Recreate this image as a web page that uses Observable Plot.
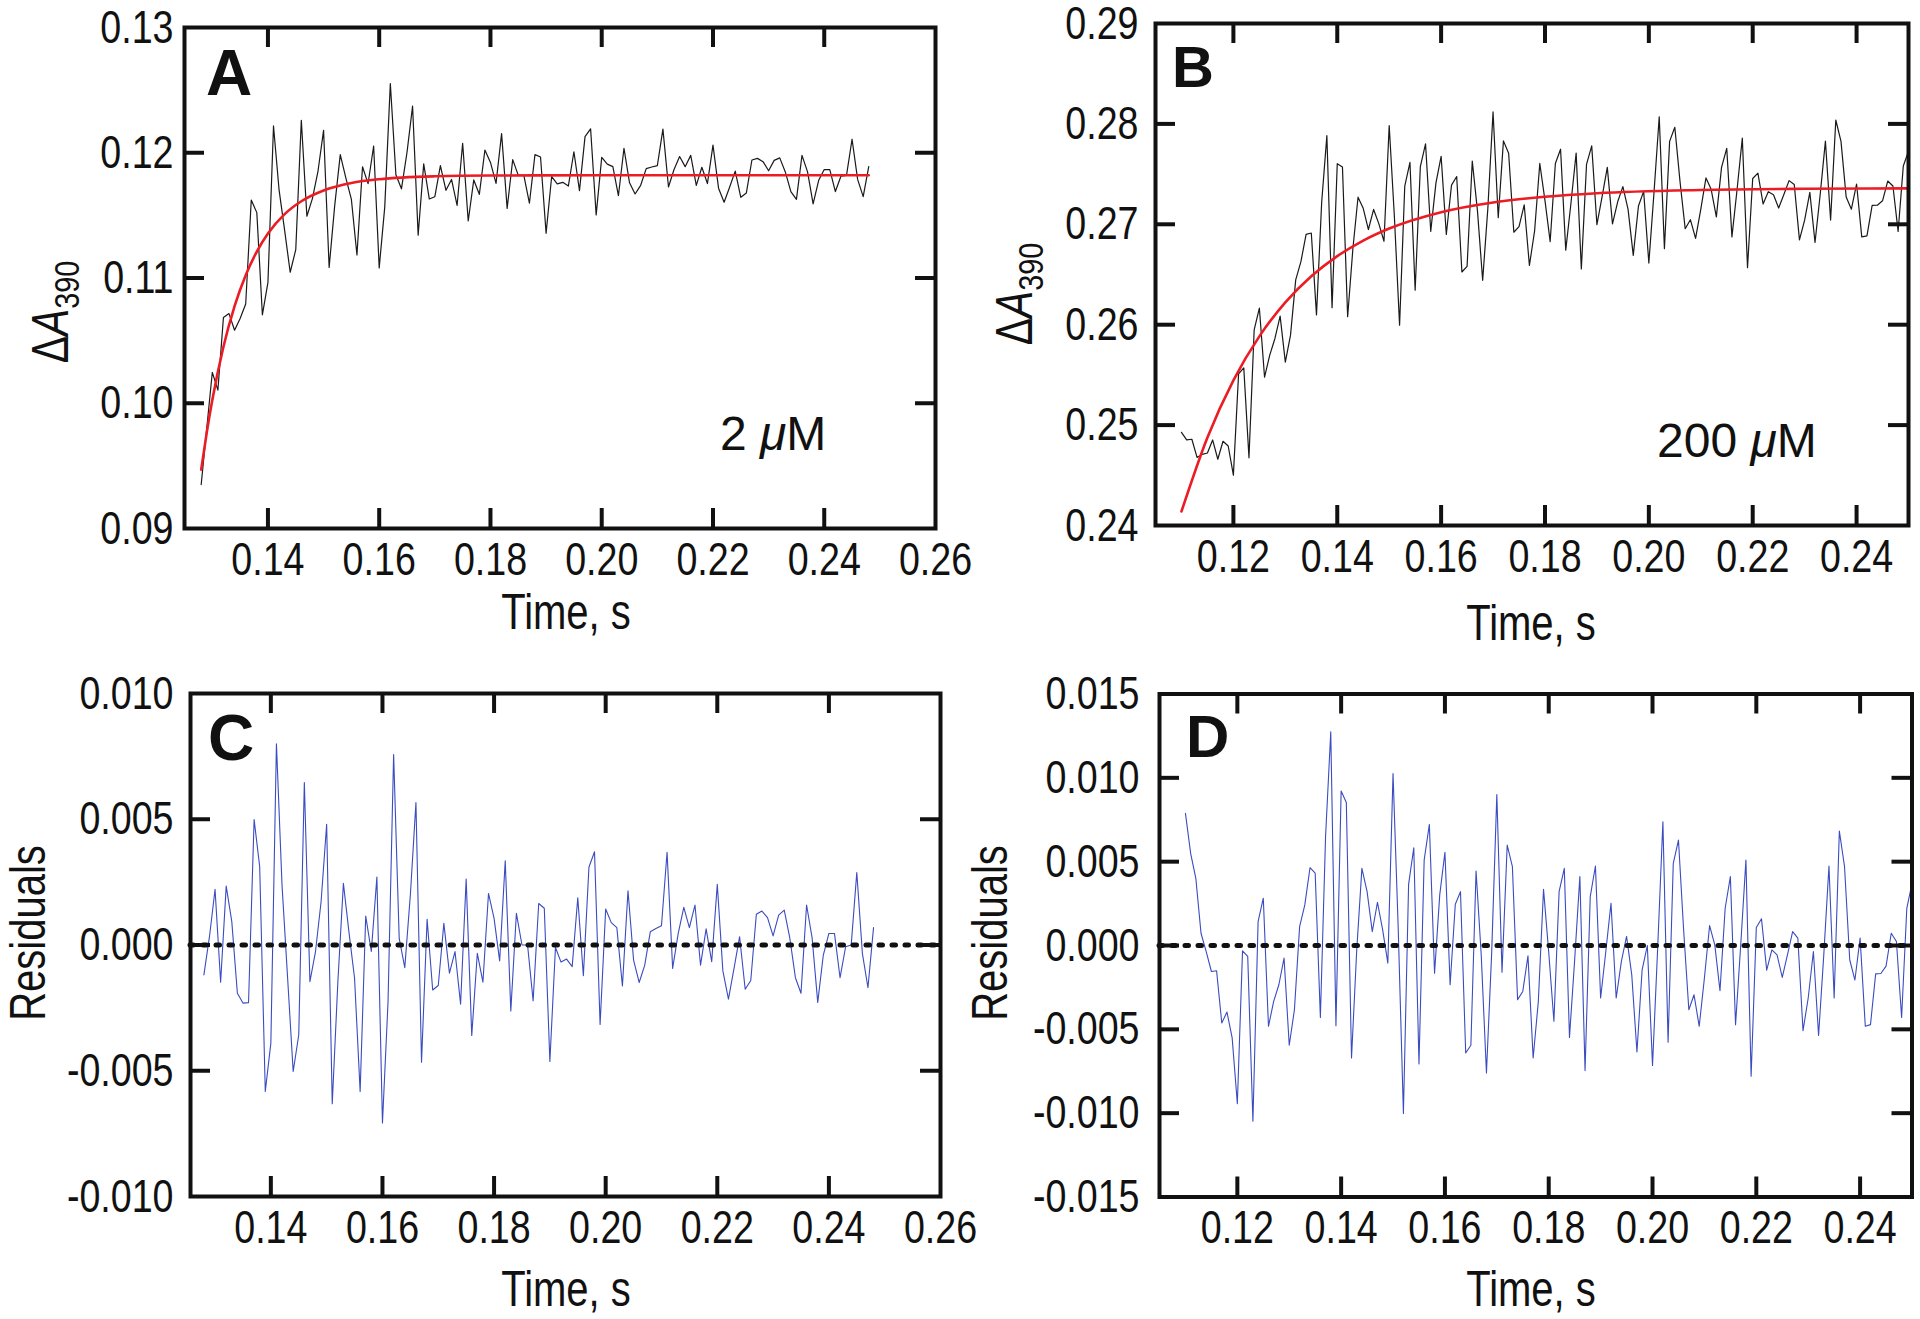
<!DOCTYPE html>
<html><head><meta charset="utf-8">
<script src="https://cdn.jsdelivr.net/npm/d3@7"></script>
<script src="https://cdn.jsdelivr.net/npm/@observablehq/plot@0.6"></script>
<style>
html,body{margin:0;padding:0;background:#fff;}
#fig{position:relative;width:1920px;height:1319px;background:#fff;overflow:hidden;}
.panel{position:absolute;}
</style></head><body><div id="fig"></div>
<script>
// ---------- DATA ----------
const timeA = [0.128,0.129,0.130,0.131,0.132,0.133,0.134,0.135,0.136,0.137,0.138,0.139,0.140,0.141,0.142,0.143,0.144,0.145,0.146,0.147,0.148,0.149,0.150,0.151,0.152,0.153,0.154,0.155,0.156,0.157,0.158,0.159,0.160,0.161,0.162,0.163,0.164,0.165,0.166,0.167,0.168,0.169,0.170,0.171,0.172,0.173,0.174,0.175,0.176,0.177,0.178,0.179,0.180,0.181,0.182,0.183,0.184,0.185,0.186,0.187,0.188,0.189,0.190,0.191,0.192,0.193,0.194,0.195,0.196,0.197,0.198,0.199,0.200,0.201,0.202,0.203,0.204,0.205,0.206,0.207,0.208,0.209,0.210,0.211,0.212,0.213,0.214,0.215,0.216,0.217,0.218,0.219,0.220,0.221,0.222,0.223,0.224,0.225,0.226,0.227,0.228,0.229,0.230,0.231,0.232,0.233,0.234,0.235,0.236,0.237,0.238,0.239,0.240,0.241,0.242,0.243,0.244,0.245,0.246,0.247,0.248];
const absorbanceA = [0.09351,0.098,0.10247,0.10105,0.10685,0.10716,0.10583,0.10676,0.10793,0.11622,
0.11522,0.10706,0.10965,0.12214,0.11703,0.1138,0.11046,0.11226,0.12259,0.11493,
0.11636,0.11854,0.12179,0.11084,0.11578,0.11985,0.118,0.11627,0.11184,0.11888,
0.11753,0.12054,0.11081,0.11568,0.12553,0.11825,0.11712,0.12004,0.12372,0.11342,
0.11911,0.11631,0.11649,0.11897,0.117,0.11787,0.11579,0.12076,0.11455,0.11783,
0.11668,0.12022,0.11923,0.11755,0.12153,0.11556,0.11945,0.11819,0.11819,0.11597,
0.11985,0.11966,0.11357,0.1181,0.11752,0.11764,0.11734,0.12008,0.11698,0.12129,
0.12191,0.11504,0.11963,0.11909,0.11889,0.11657,0.12036,0.1176,0.11671,0.1174,
0.11873,0.11886,0.11897,0.12189,0.11727,0.11866,0.1197,0.11889,0.11979,0.1174,
0.11884,0.11754,0.12061,0.11717,0.11605,0.11727,0.11853,0.11644,0.11679,0.11942,
0.11955,0.11929,0.11856,0.11939,0.11959,0.11847,0.1169,0.11628,0.11979,0.11847,
0.11592,0.1178,0.11866,0.11866,0.1169,0.11813,0.1182,0.12108,0.11787,0.1165,
0.11889];
const fitTimeA = [0.128,0.129,0.130,0.132,0.134,0.136,0.138,0.140,0.143,0.146,0.150,0.155,0.160,0.170,0.180,0.200,0.248];
const fitA = [0.0947,0.09767,0.10026,0.10451,0.10775,0.11022,0.11211,0.11355,0.1151,0.11613,0.11699,0.11759,0.11789,0.11812,0.11818,0.1182,0.1182];
const residualsC = [-0.00119,0.00033,0.00221,-0.00148,0.00234,0.00093,-0.00192,-0.00231,-0.00229,0.00499,
0.00311,-0.00582,-0.0039,0.008,0.00238,-0.0013,-0.00503,-0.00357,0.00646,-0.00146,
-0.00026,0.00172,0.0048,-0.00631,-0.0015,0.00245,0.0005,-0.00132,-0.00582,0.00115,
-0.00026,0.0027,-0.00708,-0.00225,0.00757,0.00026,-0.0009,0.002,0.00566,-0.00466,
0.00102,-0.00179,-0.00161,0.00086,-0.00112,-0.00026,-0.00235,0.00262,-0.0036,-0.00033,
-0.00148,0.00205,0.00106,-0.00063,0.00335,-0.00262,0.00126,0,0,-0.00222,
0.00165,0.00146,-0.00463,-0.0001,-0.00068,-0.00056,-0.00086,0.00188,-0.00122,0.00309,
0.00371,-0.00316,0.00143,0.00089,0.00069,-0.00163,0.00216,-0.0006,-0.00149,-0.0008,
0.00053,0.00066,0.00077,0.00369,-0.00093,0.00046,0.0015,0.00069,0.00159,-0.0008,
0.00064,-0.00066,0.00241,-0.00103,-0.00215,-0.00093,0.00033,-0.00176,-0.00141,0.00122,
0.00135,0.00109,0.00036,0.00119,0.00139,0.00027,-0.0013,-0.00192,0.00159,0.00027,
-0.00228,-0.0004,0.00046,0.00046,-0.0013,-0.00007,0,0.00288,-0.00033,-0.0017,
0.00069];

const timeB = [0.110,0.111,0.112,0.113,0.114,0.115,0.116,0.117,0.118,0.119,0.120,0.121,0.122,0.123,0.124,0.125,0.126,0.127,0.128,0.129,0.130,0.131,0.132,0.133,0.134,0.135,0.136,0.137,0.138,0.139,0.140,0.141,0.142,0.143,0.144,0.145,0.146,0.147,0.148,0.149,0.150,0.151,0.152,0.153,0.154,0.155,0.156,0.157,0.158,0.159,0.160,0.161,0.162,0.163,0.164,0.165,0.166,0.167,0.168,0.169,0.170,0.171,0.172,0.173,0.174,0.175,0.176,0.177,0.178,0.179,0.180,0.181,0.182,0.183,0.184,0.185,0.186,0.187,0.188,0.189,0.190,0.191,0.192,0.193,0.194,0.195,0.196,0.197,0.198,0.199,0.200,0.201,0.202,0.203,0.204,0.205,0.206,0.207,0.208,0.209,0.210,0.211,0.212,0.213,0.214,0.215,0.216,0.217,0.218,0.219,0.220,0.221,0.222,0.223,0.224,0.225,0.226,0.227,0.228,0.229,0.230,0.231,0.232,0.233,0.234,0.235,0.236,0.237,0.238,0.239,0.240,0.241,0.242,0.243,0.244,0.245,0.246,0.247,0.248,0.249,0.250];
const absorbanceB = [0.24928,0.24853,0.24859,0.24678,0.24709,0.24722,0.24852,0.2466,0.24839,0.24792,
0.24502,0.25511,0.2557,0.24674,0.25948,0.26166,0.25477,0.25697,0.25863,0.26086,
0.25627,0.25896,0.26447,0.26628,0.269,0.26913,0.26098,0.27219,0.27883,0.26169,
0.27604,0.27571,0.26079,0.26751,0.2727,0.27159,0.26948,0.27148,0.27007,0.26831,
0.27984,0.27078,0.25995,0.27381,0.27616,0.26344,0.27575,0.27802,0.2693,0.2741,
0.27677,0.26899,0.2739,0.27476,0.26525,0.26581,0.27629,0.27134,0.26442,0.2716,
0.28119,0.27066,0.27831,0.27708,0.26921,0.26976,0.27194,0.2659,0.26933,0.27606,
0.27235,0.26828,0.27605,0.27748,0.26743,0.2721,0.27709,0.26555,0.27596,0.27781,
0.26997,0.27276,0.27567,0.27004,0.27224,0.27375,0.27148,0.2669,0.27182,0.27328,
0.26614,0.27322,0.28071,0.26757,0.27826,0.27966,0.27428,0.26956,0.27046,0.26859,
0.27148,0.27462,0.27348,0.27074,0.27567,0.27757,0.26875,0.27351,0.27858,0.26568,
0.27456,0.27509,0.27203,0.27325,0.27295,0.27162,0.27296,0.27435,0.27397,0.26845,
0.27041,0.27318,0.26819,0.27299,0.27829,0.27042,0.28039,0.27826,0.27271,0.2715,
0.27401,0.26875,0.26885,0.27188,0.2719,0.27234,0.27431,0.27382,0.26929,0.2758,
0.27729];
const fitTimeB = [0.110,0.115,0.120,0.125,0.130,0.135,0.140,0.145,0.150,0.160,0.170,0.180,0.190,0.210,0.230,0.250];
const fitB = [0.2414,0.24877,0.25446,0.25884,0.26222,0.26482,0.26683,0.26838,0.26958,0.27121,0.27218,0.27275,0.2731,0.27342,0.27354,0.27358];
const residualsD = [0.00788,0.0055,0.00401,0.00073,-0.00036,-0.00155,-0.00151,-0.00462,-0.00397,-0.00551,
-0.00944,-0.00032,-0.00065,-0.01048,0.00143,0.00282,-0.00482,-0.00333,-0.00234,-0.00075,
-0.00595,-0.00383,0.00113,0.00242,0.00464,0.00431,-0.00429,0.0065,0.01274,-0.00478,
0.00921,0.00853,-0.00671,-0.0003,0.0046,0.00321,0.00083,0.00258,0.00093,-0.00105,
0.01026,0.001,-0.01002,0.00365,0.00583,-0.00706,0.0051,0.00722,-0.00165,0.00302,
0.00556,-0.00234,0.00246,0.00321,-0.00641,-0.00595,0.00444,-0.0006,-0.0076,-0.0005,
0.00901,-0.00159,0.00599,0.0047,-0.00323,-0.00274,-0.00062,-0.00671,-0.00333,0.00335,
-0.0004,-0.00452,0.00321,0.0046,-0.00548,-0.00085,0.00411,-0.00746,0.00292,0.00474,
-0.00313,-0.00036,0.00252,-0.00313,-0.00095,0.00054,-0.00175,-0.00635,-0.00145,0,
-0.00716,-0.0001,0.00738,-0.00577,0.0049,0.00629,0.0009,-0.00383,-0.00294,-0.00482,
-0.00194,0.00119,0.00004,-0.0027,0.00222,0.00411,-0.00472,0.00004,0.0051,-0.0078,
0.00107,0.00159,-0.00147,-0.00026,-0.00056,-0.0019,-0.00056,0.00083,0.00044,-0.00508,
-0.00313,-0.00036,-0.00536,-0.00056,0.00474,-0.00313,0.00683,0.0047,-0.00085,-0.00206,
0.00044,-0.00482,-0.00472,-0.00169,-0.00167,-0.00123,0.00073,0.00024,-0.00429,0.00222,
0.00371];

// tick values / labels
const xTicksA = [0.14,0.16,0.18,0.20,0.22,0.24,0.26];
const yTicksA = [0.09,0.10,0.11,0.12,0.13];
const xTicksB = [0.12,0.14,0.16,0.18,0.20,0.22,0.24];
const yTicksB = [0.24,0.25,0.26,0.27,0.28,0.29];
const yTicksC = [-0.010,-0.005,0,0.005,0.010];
const yTicksD = [-0.015,-0.010,-0.005,0,0.005,0.010,0.015];

// ---------- STYLE ----------
const FONT = '"Liberation Sans", Arial, Helvetica, sans-serif';
const INK = "#111111";
const SX = 0.80;           // horizontal condensation of axis texts
const TICK_FS = 47;
const TITLE_FS = 50;

const rows = (t, v) => t.map((d, i) => ({t: d, v: v[i]}));

function condenseAxisText(svg) {
  d3.select(svg).selectAll('g[aria-label$="tick label"] text').each(function () {
    const tr = this.getAttribute("transform") || "";
    this.setAttribute("transform", `${tr} scale(${SX},1)`);
  });
}

function addText(svg, {x, y, parts, size, rotate = 0, anchor = "start", sx = 1, weight = "normal"}) {
  const t = d3.select(svg).append("text")
    .attr("transform", `translate(${x},${y}) rotate(${rotate}) scale(${sx},1)`)
    .attr("text-anchor", anchor)
    .attr("font-family", FONT)
    .attr("font-size", size)
    .attr("font-weight", weight)
    .attr("fill", INK);
  for (const p of parts) {
    const s = t.append("tspan").text(p.text);
    if (p.italic) s.attr("font-style", "italic");
    if (p.size) s.attr("font-size", p.size);
    if (p.dy) s.attr("dy", p.dy);
  }
  return t;
}

function panel({left, top, width, height, m, xDomain, yDomain, xLabels, xTickMarks, yLabels, yTickMarks, yFmt, marks}) {
  const fw = width - m.left - m.right, fh = height - m.top - m.bottom;
  const TL = 20;
  const plot = Plot.plot({
    width, height,
    marginLeft: m.left, marginRight: m.right, marginTop: m.top, marginBottom: m.bottom,
    x: {domain: xDomain},
    y: {domain: yDomain},
    style: {fontFamily: FONT, fontSize: TICK_FS + "px", color: INK, background: "transparent", overflow: "visible"},
    marks: [
      ...marks,
      Plot.tickX(xTickMarks, {x: d => d, stroke: INK, strokeWidth: 4, insetBottom: fh - TL}),
      Plot.tickX(xTickMarks, {x: d => d, stroke: INK, strokeWidth: 4, insetTop: fh - TL}),
      Plot.tickY(yTickMarks, {y: d => d, stroke: INK, strokeWidth: 4, insetRight: fw - TL}),
      Plot.tickY(yTickMarks, {y: d => d, stroke: INK, strokeWidth: 4, insetLeft: fw - TL}),
      Plot.frame({stroke: INK, strokeWidth: 4}),
      Plot.axisX(xLabels, {tickSize: 0, tickPadding: m.xPad, tickFormat: d => d.toFixed(2), label: null}),
      Plot.axisY(yLabels, {tickSize: 0, tickPadding: m.yPad, tickFormat: yFmt, label: null})
    ]
  });
  condenseAxisText(plot);
  const div = document.createElement("div");
  div.className = "panel";
  div.style.left = left + "px"; div.style.top = top + "px";
  div.appendChild(plot);
  document.getElementById("fig").appendChild(div);
  return plot;
}

const BLACK = "#1a1a1a", RED = "#ec1c24", BLUE = "#3a4cc0";

// ---------- Panel A ----------
const svgA = panel({
  left: 0, top: 0, width: 960, height: 660,
  m: {left: 184, right: 25, top: 27, bottom: 132, xPad: 13, yPad: 11},
  xDomain: [0.125, 0.26], yDomain: [0.09, 0.13],
  xLabels: xTicksA, xTickMarks: xTicksA.slice(0, -1), yLabels: yTicksA, yTickMarks: yTicksA.slice(1, -1),
  yFmt: d => d.toFixed(2),
  marks: [
    Plot.line(rows(timeA, absorbanceA), {x: "t", y: "v", stroke: BLACK, strokeWidth: 1.2}),
    Plot.line(rows(fitTimeA, fitA), {x: "t", y: "v", stroke: RED, strokeWidth: 2.6, curve: "monotone-x"})
  ]
});
addText(svgA, {x: 206, y: 95, parts: [{text: "A"}], size: 64, weight: "bold"});
addText(svgA, {x: 720, y: 450, parts: [{text: "2 "}, {text: "\u03bc", italic: true}, {text: "M"}], size: 48});
addText(svgA, {x: 68, y: 312, rotate: -90, anchor: "middle", sx: SX, size: 51,
  parts: [{text: "\u0394"}, {text: "A", italic: true}, {text: "390", size: 36, dy: "0.3em"}]});
addText(svgA, {x: 566, y: 629, anchor: "middle", sx: SX, size: TITLE_FS, parts: [{text: "Time, s"}]});

// ---------- Panel B ----------
const svgB = panel({
  left: 960, top: 0, width: 960, height: 660,
  m: {left: 195, right: 12, top: 23, bottom: 135, xPad: 13, yPad: 17},
  xDomain: [0.105, 0.25], yDomain: [0.24, 0.29],
  xLabels: xTicksB, xTickMarks: xTicksB, yLabels: yTicksB, yTickMarks: yTicksB.slice(1, -1),
  yFmt: d => d.toFixed(2),
  marks: [
    Plot.line(rows(timeB, absorbanceB), {x: "t", y: "v", stroke: BLACK, strokeWidth: 1.2, clip: true}),
    Plot.line(rows(fitTimeB, fitB), {x: "t", y: "v", stroke: RED, strokeWidth: 2.6, curve: "monotone-x", clip: true})
  ]
});
addText(svgB, {x: 212, y: 87, parts: [{text: "B"}], size: 58, weight: "bold"});
addText(svgB, {x: 697, y: 457, parts: [{text: "200 "}, {text: "\u03bc", italic: true}, {text: "M"}], size: 48});
addText(svgB, {x: 72, y: 294, rotate: -90, anchor: "middle", sx: SX, size: 51,
  parts: [{text: "\u0394"}, {text: "A", italic: true}, {text: "390", size: 36, dy: "0.3em"}]});
addText(svgB, {x: 571, y: 640, anchor: "middle", sx: SX, size: TITLE_FS, parts: [{text: "Time, s"}]});

// ---------- Panel C ----------
const svgC = panel({
  left: 0, top: 660, width: 960, height: 659,
  m: {left: 190, right: 20, top: 33, bottom: 123, xPad: 13, yPad: 17},
  xDomain: [0.1256, 0.26], yDomain: [-0.01, 0.01],
  xLabels: xTicksA, xTickMarks: xTicksA.slice(0, -1), yLabels: yTicksC, yTickMarks: yTicksC.slice(1, -1),
  yFmt: d => d.toFixed(3),
  marks: [
    Plot.line(rows(timeA, residualsC), {x: "t", y: "v", stroke: BLUE, strokeWidth: 1.1}),
    Plot.ruleY([0], {stroke: INK, strokeWidth: 5, strokeDasharray: "3.5,9.5", strokeLinecap: "round"})
  ]
});
addText(svgC, {x: 208, y: 100, parts: [{text: "C"}], size: 64, weight: "bold"});
addText(svgC, {x: 45, y: 273, rotate: -90, anchor: "middle", sx: SX, size: TITLE_FS, parts: [{text: "Residuals"}]});
addText(svgC, {x: 566, y: 646, anchor: "middle", sx: SX, size: TITLE_FS, parts: [{text: "Time, s"}]});

// ---------- Panel D ----------
const svgD = panel({
  left: 960, top: 660, width: 960, height: 659,
  m: {left: 199, right: 8.5, top: 33.5, bottom: 122.5, xPad: 13, yPad: 20},
  xDomain: [0.105, 0.25], yDomain: [-0.015, 0.015],
  xLabels: xTicksB, xTickMarks: xTicksB, yLabels: yTicksD, yTickMarks: yTicksD.slice(1, -1),
  yFmt: d => d.toFixed(3),
  marks: [
    Plot.line(rows(timeB, residualsD), {x: "t", y: "v", stroke: BLUE, strokeWidth: 1.1, clip: true}),
    Plot.ruleY([0], {stroke: INK, strokeWidth: 5, strokeDasharray: "3.5,9.5", strokeLinecap: "round"})
  ]
});
addText(svgD, {x: 226, y: 97, parts: [{text: "D"}], size: 60, weight: "bold"});
addText(svgD, {x: 47, y: 273, rotate: -90, anchor: "middle", sx: SX, size: TITLE_FS, parts: [{text: "Residuals"}]});
addText(svgD, {x: 571, y: 646, anchor: "middle", sx: SX, size: TITLE_FS, parts: [{text: "Time, s"}]});
</script></body></html>
